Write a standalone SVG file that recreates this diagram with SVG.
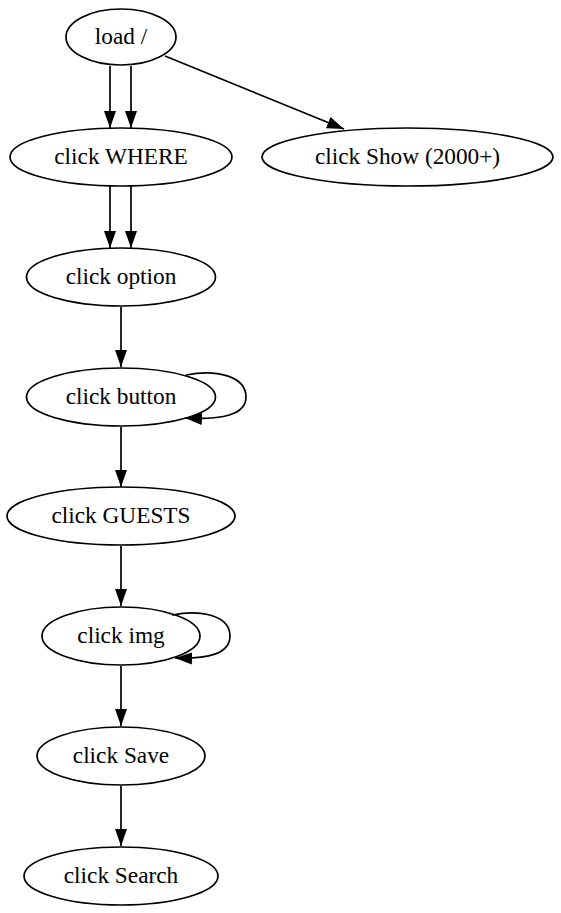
<svg xmlns="http://www.w3.org/2000/svg" width="561" height="913" viewBox="0 0 561 913">
<defs>
<marker id="a" markerWidth="17" markerHeight="13" refX="17" refY="6.5" orient="auto" markerUnits="userSpaceOnUse">
<path d="M0,0.5 L17,6.5 L0,12.5 Z" fill="#000"/>
</marker>
</defs>
<style>
.n ellipse{fill:none;stroke:#000;stroke-width:1.7}
.n text{font-family:"Liberation Serif","Times New Roman",serif;font-size:23.3px;fill:#000;text-anchor:middle}
.e path{fill:none;stroke:#000;stroke-width:1.7;marker-end:url(#a)}
</style>
<rect width="561" height="913" fill="#fff"/>
<g class="e" id="edges">
<path d="M110,66 L110,128"/>
<path d="M131,66 L131,128"/>
<path d="M165,56 L344,129"/>
<path d="M110,186 L110,248"/>
<path d="M131,186 L131,248"/>
<path d="M121,307 L121,367"/>
<path d="M186,375 C216,369 246,376 246,397 C246,415 222,420 185,418"/>
<path d="M121,427 L121,487"/>
<path d="M121,546 L121,606"/>
<path d="M172,615 C202,609 230,616 230,636 C230,654 208,659 175,658"/>
<path d="M121,666 L121,726"/>
<path d="M121,786 L121,846"/>
</g>
<g class="n" id="n_load"><ellipse cx="121" cy="37" rx="55" ry="28"/><text x="121" y="44">load /</text></g>
<g class="n" id="n_where"><ellipse cx="121" cy="157" rx="111" ry="29"/><text x="121" y="164">click WHERE</text></g>
<g class="n" id="n_show"><ellipse cx="407.5" cy="157" rx="145.5" ry="29"/><text x="407.5" y="164">click Show (2000+)</text></g>
<g class="n" id="n_option"><ellipse cx="121" cy="277" rx="94.5" ry="29"/><text x="121" y="284">click option</text></g>
<g class="n" id="n_button"><ellipse cx="121" cy="397" rx="94.5" ry="29"/><text x="121" y="404">click button</text></g>
<g class="n" id="n_guests"><ellipse cx="121" cy="516" rx="114" ry="29"/><text x="121" y="523">click GUESTS</text></g>
<g class="n" id="n_img"><ellipse cx="121" cy="636" rx="79" ry="29"/><text x="121" y="643">click img</text></g>
<g class="n" id="n_save"><ellipse cx="121" cy="756" rx="84" ry="29"/><text x="121" y="763">click Save</text></g>
<g class="n" id="n_search"><ellipse cx="121" cy="876" rx="97" ry="29"/><text x="121" y="883">click Search</text></g>
</svg>
